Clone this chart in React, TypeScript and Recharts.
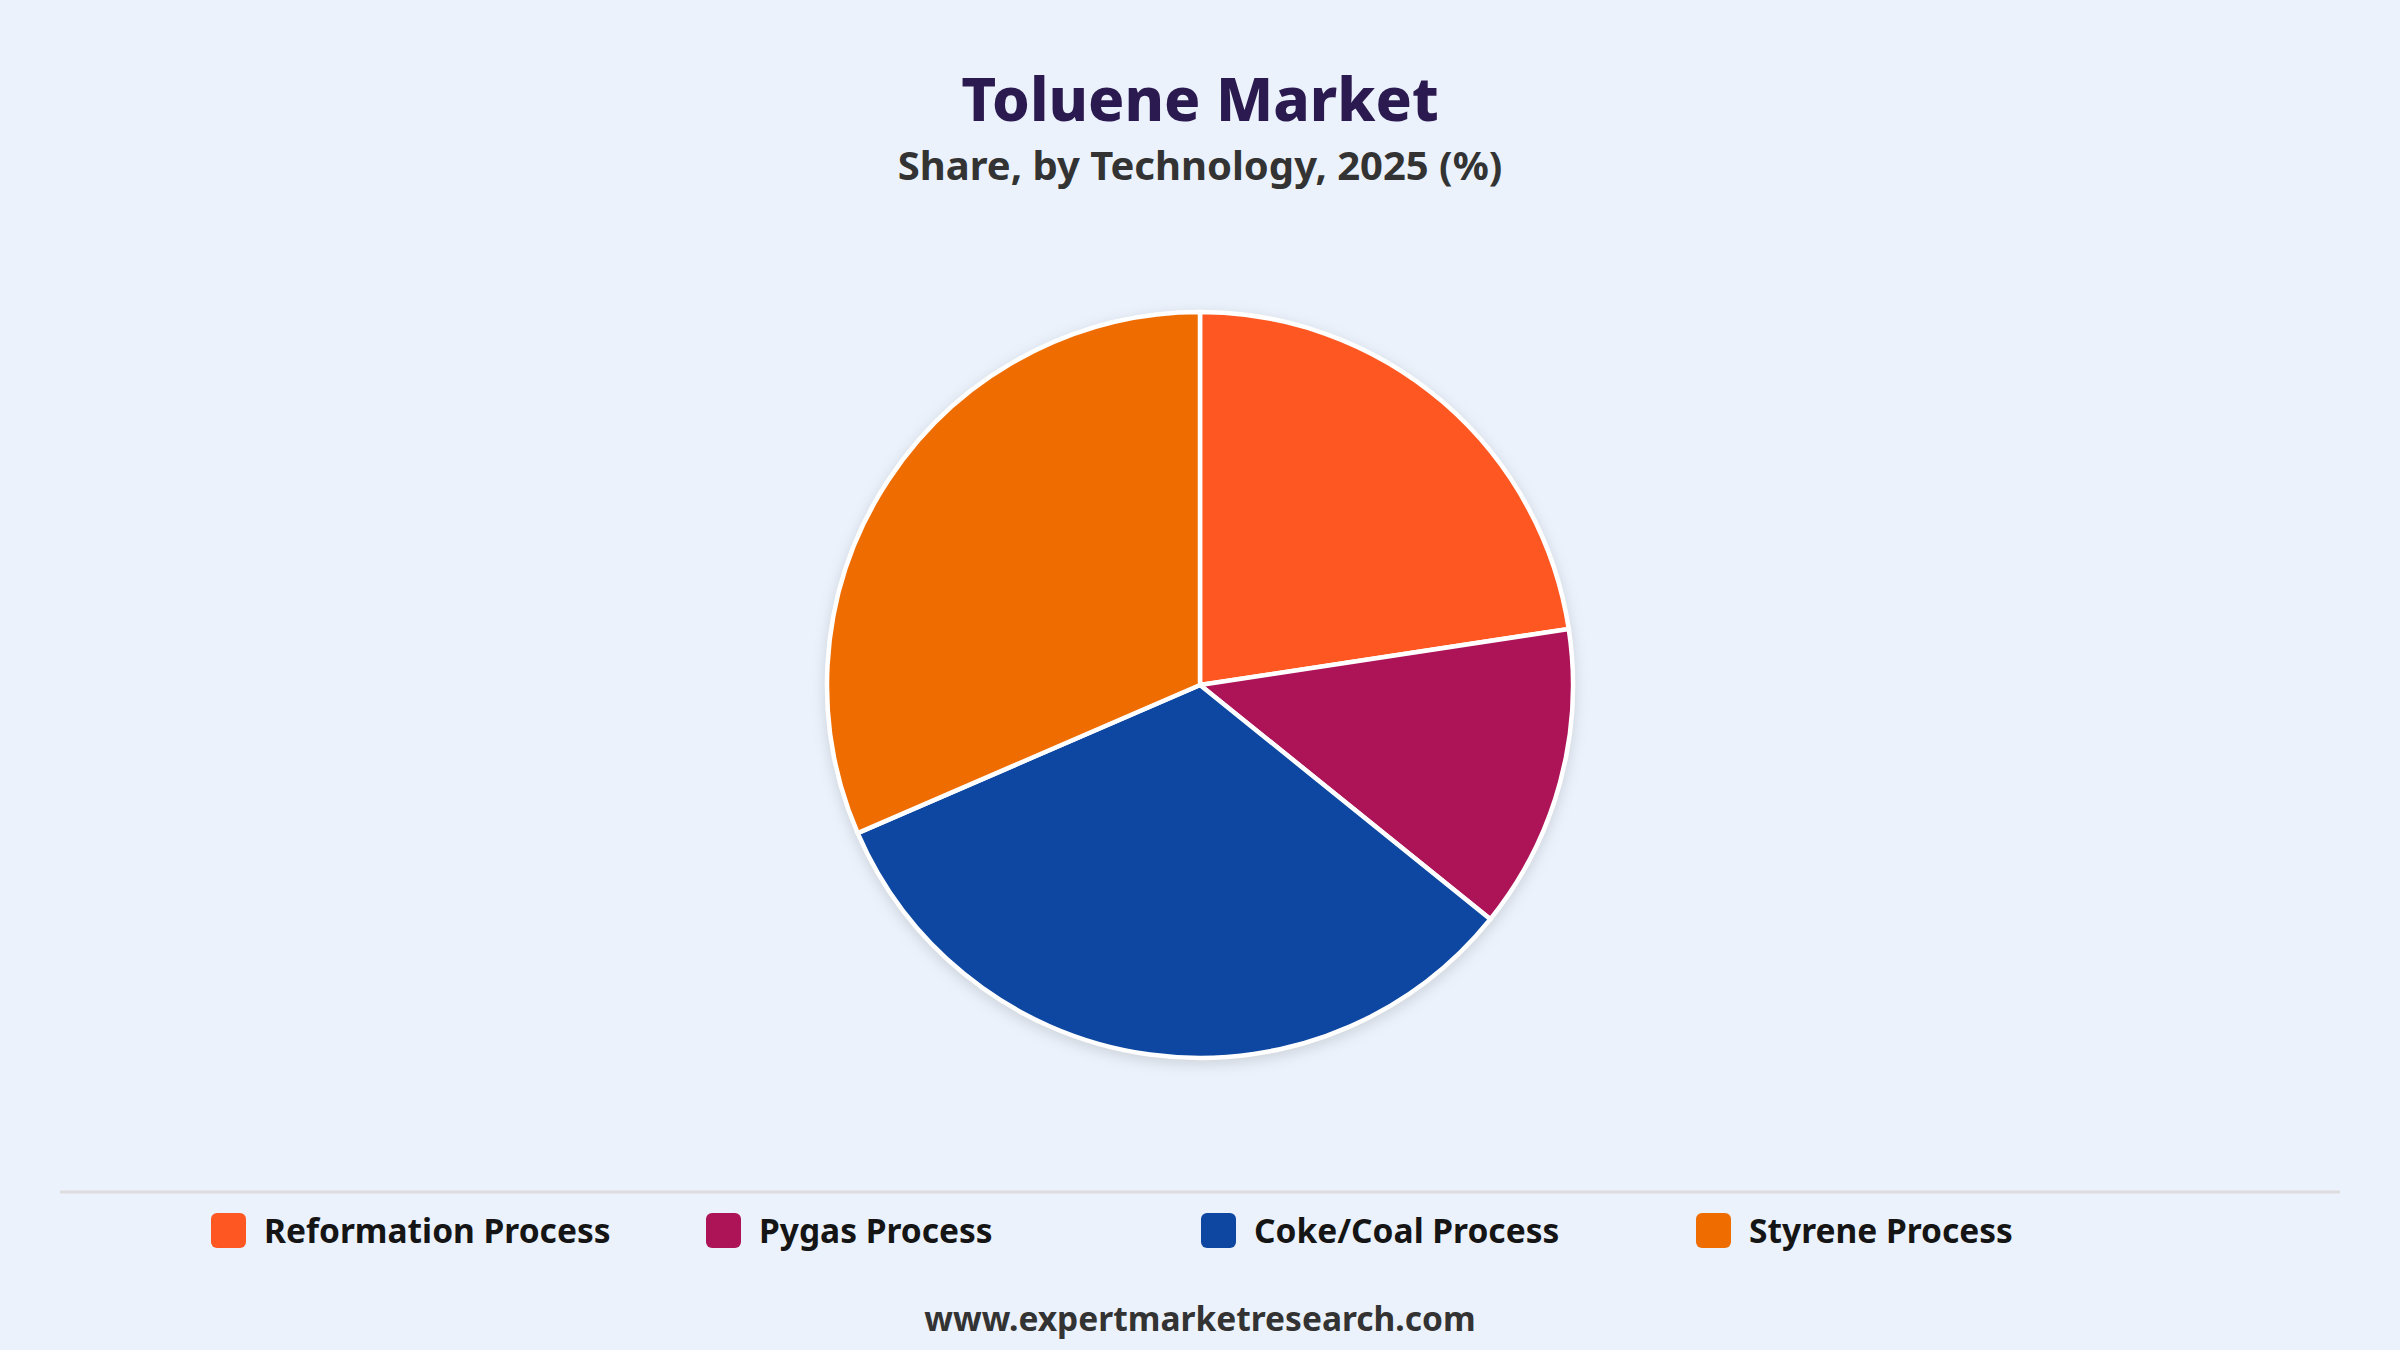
import React from "react";
import { PieChart, Pie, Cell } from "recharts";

const categories = ["Reformation Process", "Pygas Process", "Coke/Coal Process", "Styrene Process"];
const shares = [22.6, 13.2, 32.7, 31.5];
const colors = ["#FF5722", "#AD1457", "#0D47A1", "#EF6C00"];

const titleText = "Toluene Market";
const subtitleText = "Share, by Technology, 2025 (%)";
const footerText = "www.expertmarketresearch.com";

const W = 2400;
const H = 1350;
const FONT = "'Noto Sans', 'Open Sans', sans-serif";

const data = categories.map((name, i) => ({ name, value: shares[i] }));

export default function App() {
  const legendStart = 211;
  const legendStep = 495;
  return (
    <div
      style={{
        position: "absolute",
        left: 0,
        top: 0,
        width: W,
        height: H,
        background: "#EBF2FB",
        overflow: "hidden",
      }}
    >
      <svg width={W} height={H} style={{ position: "absolute", left: 0, top: 0 }}>
        <text x={1200} y={121} textAnchor="middle" fontFamily={FONT} fontWeight={800} fontSize={60} fill="#2B1A4F">
          {titleText}
        </text>
        <text x={1200} y={180} textAnchor="middle" fontFamily={FONT} fontWeight={700} fontSize={40} fill="#333333">
          {subtitleText}
        </text>
        <line x1={60} x2={2340} y1={1192} y2={1192} stroke="#DDDDDD" strokeWidth={3} />
        {categories.map((c, i) => (
          <g key={c}>
            <rect x={legendStart + i * legendStep} y={1213} width={35} height={35} rx={6} ry={6} fill={colors[i]} />
            <text
              x={legendStart + i * legendStep + 53}
              y={1243}
              fontFamily={FONT}
              fontWeight={700}
              fontSize={33.5}
              fill="#151515"
            >
              {c}
            </text>
          </g>
        ))}
        <text x={1200} y={1331} textAnchor="middle" fontFamily={FONT} fontWeight={700} fontSize={33.5} fill="#333333">
          {footerText}
        </text>
      </svg>
      <div
        style={{
          position: "absolute",
          left: 0,
          top: 0,
          width: W,
          height: H,
          filter: "drop-shadow(0px 4px 7px rgba(0,0,0,0.13))",
        }}
      >
        <PieChart width={W} height={H} margin={{ top: 0, right: 0, bottom: 0, left: 0 }}>
          <Pie
            data={data}
            dataKey="value"
            nameKey="name"
            cx={1200}
            cy={685}
            outerRadius={373}
            innerRadius={0}
            startAngle={90}
            endAngle={-270}
            stroke="#FFFFFF"
            strokeWidth={4.5}
            isAnimationActive={false}
            labelLine={false}
            label={false}
          >
            {data.map((d, i) => (
              <Cell key={d.name} fill={colors[i]} />
            ))}
          </Pie>
        </PieChart>
      </div>
    </div>
  );
}
